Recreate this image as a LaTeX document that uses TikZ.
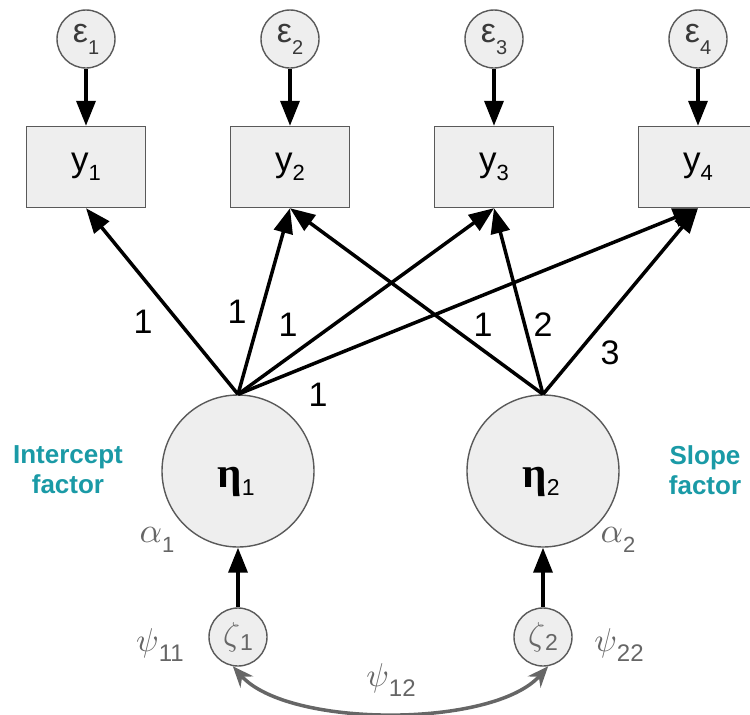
\documentclass[tikz,border=0pt]{standalone}
\usepackage{amsmath}
\usepackage{graphicx}
\usepackage{fontspec}
\setmainfont{Liberation Sans}
\newfontfamily\etafont{Liberation Serif}
\usetikzlibrary{arrows.meta}

\definecolor{nodefill}{HTML}{EEEEEE}
\definecolor{nodeline}{HTML}{595959}
\definecolor{paramgray}{HTML}{666666}
\definecolor{epsgray}{HTML}{3A3A3A}
\definecolor{teal}{HTML}{1A9AA6}

% lowered subscript: drop, font size, text
\newcommand{\lsub}[3]{\raisebox{-#1}{\fontsize{#2}{#2}\selectfont #3}}
% enlarged math symbol (scale factor, symbol)
\newcommand{\bigsym}[2]{\scalebox{#1}{$#2$}}

\tikzset{
  errnode/.style={circle, draw=nodeline, fill=nodefill, line width=1.4pt,
    minimum size=58pt, inner sep=0pt, text=epsgray},
  obsbox/.style={rectangle, draw=nodeline, fill=nodefill, line width=1.4pt,
    minimum width=119pt, minimum height=81pt, inner sep=0pt},
  latent/.style={circle, draw=nodeline, fill=nodefill, line width=1.4pt,
    minimum size=152pt, inner sep=0pt},
  disturb/.style={circle, draw=nodeline, fill=nodefill, line width=1.4pt,
    minimum size=58pt, inner sep=0pt, text=paramgray},
  path arrow/.style={draw=black, line width=3.5pt,
    -{Triangle[length=25pt,width=19pt]}},
  cov arrow/.style={draw=paramgray, line width=3.5pt,
    {Stealth[length=21pt,width=17pt,inset=7pt]}-{Stealth[length=21pt,width=17pt,inset=7pt]}},
  num/.style={font=\fontsize{34}{34}\selectfont, inner sep=0pt},
  glab/.style={text=paramgray, inner sep=0pt},
  factor/.style={text=teal, align=center, inner sep=0pt,
    font=\fontsize{26}{30}\selectfont\bfseries},
  etatext/.style={inner sep=0pt},
}

\begin{document}
\begin{tikzpicture}[x=1pt,y=-1pt]
\useasboundingbox (0,0) rectangle (750,715);

% residual terms
\foreach \i/\x in {1/86,2/290,3/494,4/698}{
  \node[errnode] (e\i) at (\x,39)
    {{\fontsize{34}{34}\selectfont ε}\lsub{12pt}{20}{\i}};
}

% observed indicators
\foreach \i/\x in {1/86,2/290,3/494,4/698}{
  \node[obsbox] (y\i) at (\x,167)
    {{\fontsize{35}{35}\selectfont y}\lsub{9pt}{22}{\i}};
  \draw[path arrow] (e\i) -- (y\i);
}

% growth factors
\node[latent] (eta1) at (238,471) {};
\node[latent] (eta2) at (543,471) {};
\node[etatext] (eta1t) at (236,482)
  {{\etafont\bfseries\fontsize{43}{43}\selectfont η}\lsub{8pt}{23}{1}};
\node[etatext] (eta2t) at (541,482)
  {{\etafont\bfseries\fontsize{43}{43}\selectfont η}\lsub{8pt}{23}{2}};

% factor loadings
\foreach \i in {1,...,4}{
  \draw[path arrow] (eta1.north) -- (y\i.south);
}
\foreach \i in {2,3,4}{
  \draw[path arrow] (eta2.north) -- (y\i.south);
}

\node[num] (l11) at (143,322) {1};
\node[num] (l12) at (237,312) {1};
\node[num] (l13) at (288,325) {1};
\node[num] (l14) at (318,395) {1};
\node[num] (l22) at (483,325) {1};
\node[num] (l23) at (543,325) {2};
\node[num] (l24) at (610,353) {3};

% factor captions
\node[factor] (capI) at (68,470) {Intercept\\factor};
\node[factor] (capS) at (705,470) {Slope\\factor};

% means
\node[glab] (a1) at (157,540)
  {\bigsym{3.5}{\alpha}\lsub{10pt}{22}{1}};
\node[glab] (a2) at (618,540)
  {\bigsym{3.5}{\alpha}\lsub{10pt}{22}{2}};

% disturbances
\node[disturb] (z1) at (238,637)
  {\bigsym{3.3}{\zeta}\lsub{5pt}{23}{1}};
\node[disturb] (z2) at (543,637)
  {\bigsym{3.3}{\zeta}\lsub{5pt}{23}{2}};
\draw[path arrow] (z1) -- (eta1);
\draw[path arrow] (z2) -- (eta2);

% variances and covariance
\node[glab] (p11) at (160,645)
  {\bigsym{3.3}{\psi}\lsub{10pt}{24}{11}};
\node[glab] (p22) at (619,645)
  {\bigsym{3.3}{\psi}\lsub{10pt}{24}{22}};
\node[glab] (p12) at (391,680)
  {\bigsym{3.3}{\psi}\lsub{10pt}{24}{12}};

\draw[cov arrow] (z1.-100) .. controls +(55,62) and +(-55,62) .. (z2.-80);
\end{tikzpicture}
\end{document}
